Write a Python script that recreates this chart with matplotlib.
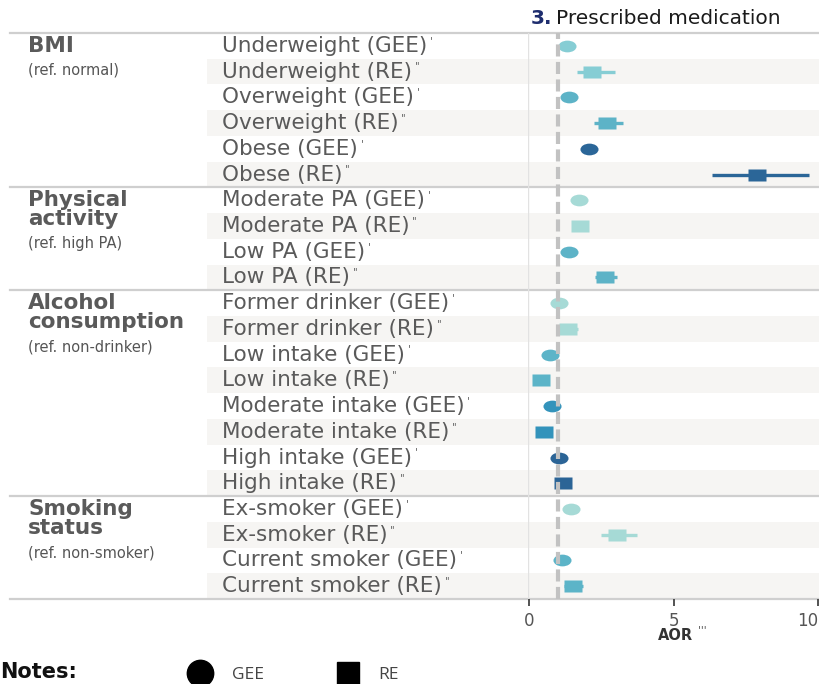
import matplotlib
matplotlib.use("Agg")
import matplotlib.pyplot as plt
import matplotlib.transforms as mtransforms
from matplotlib.path import Path
import numpy as np

# rows of the forest plot, top to bottom
labels = [
    "Underweight (GEE)", "Underweight (RE)", "Overweight (GEE)", "Overweight (RE)",
    "Obese (GEE)", "Obese (RE)",
    "Moderate PA (GEE)", "Moderate PA (RE)", "Low PA (GEE)", "Low PA (RE)",
    "Former drinker (GEE)", "Former drinker (RE)", "Low intake (GEE)", "Low intake (RE)",
    "Moderate intake (GEE)", "Moderate intake (RE)", "High intake (GEE)", "High intake (RE)",
    "Ex-smoker (GEE)", "Ex-smoker (RE)", "Current smoker (GEE)", "Current smoker (RE)",
]
aor = [1.30, 2.17, 1.38, 2.69, 2.05, 7.88,
       1.73, 1.76, 1.38, 2.63,
       1.04, 1.34, 0.70, 0.40, 0.78, 0.50, 1.04, 1.16,
       1.45, 3.03, 1.13, 1.50]
ci_low = [1.30, 1.65, 1.38, 2.23, 2.05, 6.34,
          1.73, 1.76, 1.38, 2.26,
          1.04, 1.04, 0.70, 0.40, 0.78, 0.50, 1.04, 1.16,
          1.45, 2.49, 1.13, 1.19]
ci_high = [1.30, 2.98, 1.38, 3.23, 2.05, 9.70,
           1.73, 1.76, 1.38, 3.03,
           1.04, 1.68, 0.70, 0.40, 0.78, 0.50, 1.04, 1.16,
           1.45, 3.72, 1.13, 1.86]
colors = ["#86cdd4", "#86cdd4", "#5db3c7", "#5db3c7", "#2b6698", "#2b6698",
          "#a6dad6", "#a6dad6", "#5db3c7", "#5db3c7",
          "#a6dad6", "#a6dad6", "#5cb4c8", "#5cb4c8", "#3393bb", "#3393bb",
          "#2b6496", "#2b6496",
          "#a6dad6", "#a6dad6", "#5cb4c8", "#5cb4c8"]

groups = ["BMI", "Physical\nactivity", "Alcohol\nconsumption", "Smoking\nstatus"]
group_refs = ["(ref. normal)", "(ref. high PA)", "(ref. non-drinker)", "(ref. non-smoker)"]
group_sizes = [6, 4, 8, 4]

xticks = [0, 5, 10]
ref_line = 1

# markers are squashed a little vertically
ellipse = Path.unit_circle().transformed(mtransforms.Affine2D().scale(1, 0.65))
rect = Path([(-1, -0.65), (1, -0.65), (1, 0.65), (-1, 0.65), (-1, -0.65)],
            [Path.MOVETO, Path.LINETO, Path.LINETO, Path.LINETO, Path.CLOSEPOLY])

W, H = 820, 684
fig = plt.figure(figsize=(W / 100, H / 100), dpi=100)
ax = fig.add_axes([528 / W, 1 - 599 / H, (819 - 528) / W, (599 - 33) / H])
ax.set_facecolor("none")

n = len(labels)
ax.set_ylim(n - 0.5, -0.5)
ax.set_xlim(-0.05, 10.03)
for s in ax.spines.values():
    s.set_visible(False)
ax.set_yticks([])
ax.set_xticks(xticks)
ax.tick_params(axis="x", direction="out", length=5, width=1.3, color="#444444",
               labelcolor="#555555", labelsize=12, pad=4)
ax.get_xticklabels()[-1].set_ha("right")

trans = mtransforms.blended_transform_factory(fig.transFigure, ax.transData)

# striped background for the RE rows, across the label column too
for i in range(n):
    if labels[i].endswith("(RE)"):
        ax.add_patch(plt.Rectangle((207 / W, i - 0.5), 1 - 207 / W, 1, transform=trans,
                                   facecolor="#f6f5f3", edgecolor="none", zorder=0,
                                   clip_on=False))

# group separators
bounds = np.concatenate([[0], np.cumsum(group_sizes)]) - 0.5
for b in bounds:
    ax.plot([10 / W, 1], [b, b], transform=trans, color="#cfcfcf", lw=1.6,
            clip_on=False, zorder=1)
ax.axvline(-0.05, color="#e2e2e2", lw=1, zorder=1)

# estimates with confidence intervals
for i in range(n):
    ax.plot([ci_low[i], ci_high[i]], [i, i], color=colors[i], lw=2.4,
            solid_capstyle="butt", zorder=3)
    mk = rect if labels[i].endswith("(RE)") else ellipse
    ax.plot(aor[i], i, marker=mk, markersize=13, color=colors[i], mec="none",
            linestyle="none", zorder=4)

ax.axvline(ref_line, color="#c2c2c2", lw=3, dashes=(2.9, 1.3), zorder=5)

# row labels with the small model marks
for i in range(n):
    t = ax.text(222 / W, i, labels[i], transform=trans, ha="left", va="center",
                fontsize=15.5, color="#5a5a5a", family="DejaVu Sans")
    mark = '"' if labels[i].endswith("(RE)") else "'"
    ax.annotate(mark, xy=(1, 0.75), xycoords=t, xytext=(2, 0), textcoords="offset points",
                ha="left", va="center", fontsize=7.5, color="#666666")

# group headings
start = 0
for g, ref, size in zip(groups, group_refs, group_sizes):
    gt = ax.annotate(g, xy=(28 / W, start - 0.5), xycoords=trans, xytext=(0, -2),
                     textcoords="offset points", ha="left", va="top", fontsize=15.5,
                     fontweight="bold", color="#5a5a5a", linespacing=0.95)
    ax.annotate(ref, xy=(0, 0), xycoords=gt, xytext=(0, -5), textcoords="offset points",
                ha="left", va="top", fontsize=10.5, color="#555555")
    start += size

# title
fig.text(531 / W, 1 - 18 / H, "3.", fontsize=14.5, fontweight="bold", color="#1e2d6e",
         ha="left", va="center")
fig.text(556 / W, 1 - 18 / H, "Prescribed medication", fontsize=14.5, color="#1a1a1a",
         ha="left", va="center")

# x axis title
fig.text(675 / W, 1 - 636 / H, "AOR", fontsize=10.5, fontweight="bold",
         color="#333333", ha="center", va="center")
fig.text(702 / W, 1 - 630 / H, "'''", fontsize=7.5, color="#555555", ha="center", va="center")

# notes / legend
fig.text(0 / W, 1 - 672 / H, "Notes:", fontsize=15, fontweight="bold", color="#111111",
         ha="left", va="center")
fig.lines.append(plt.Line2D([200 / W], [1 - 673 / H], marker="o", markersize=19,
                            color="black", transform=fig.transFigure))
fig.text(232 / W, 1 - 675 / H, "GEE", fontsize=12.5, color="#444444", family="Open Sans",
         ha="left", va="center")
fig.lines.append(plt.Line2D([348 / W], [1 - 673 / H], marker="s", markersize=16,
                            color="black", transform=fig.transFigure))
fig.text(378 / W, 1 - 675 / H, "RE", fontsize=12.5, color="#444444", family="Open Sans",
         ha="left", va="center")

fig.savefig("out.png", dpi=100)
